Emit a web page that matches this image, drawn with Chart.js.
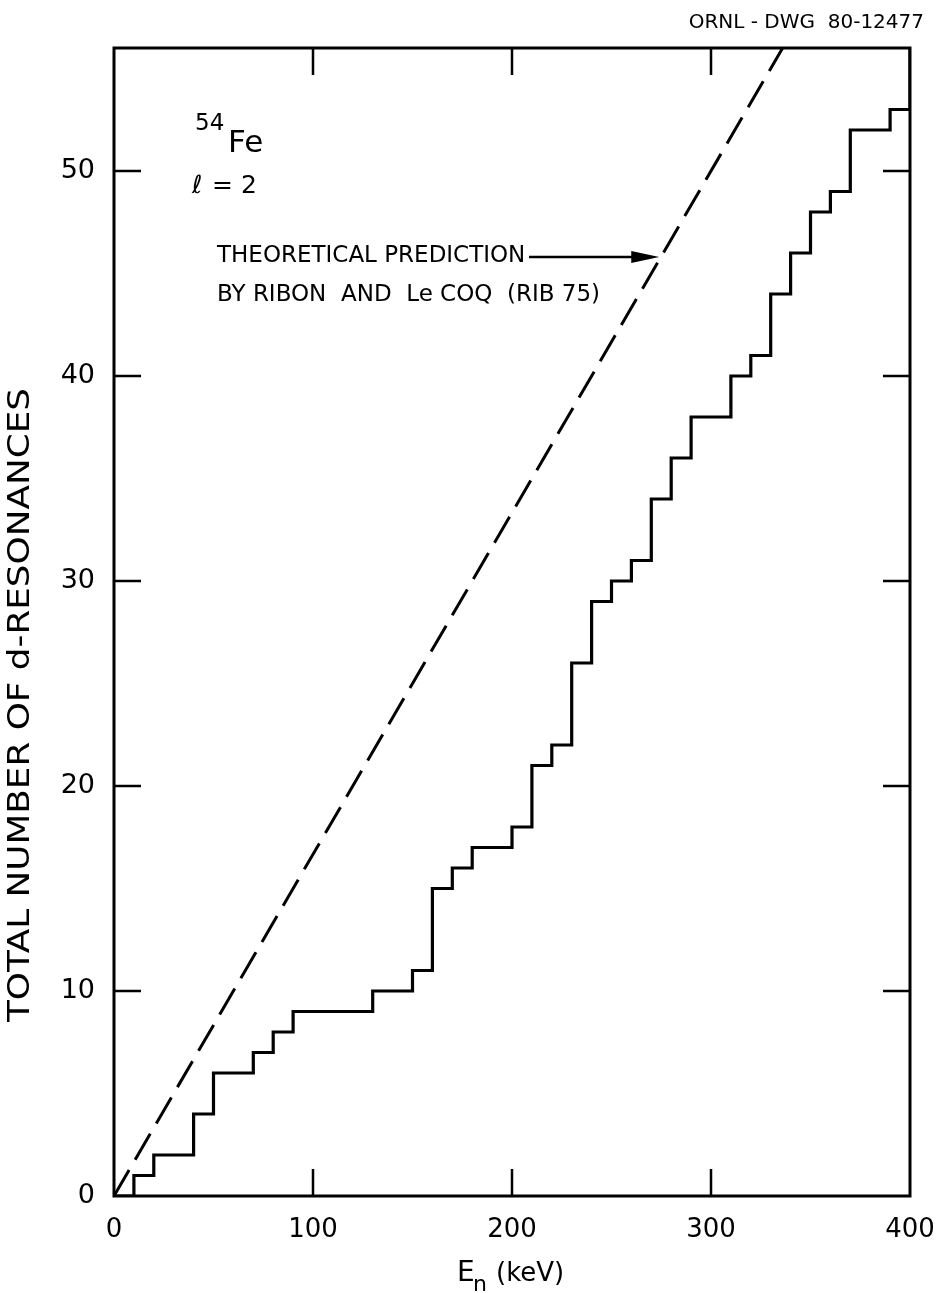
<!DOCTYPE html>
<html>
<head>
<meta charset="utf-8">
<script src="https://cdn.jsdelivr.net/npm/chart.js@4.4.1/dist/chart.umd.min.js"></script>
<style>
  body { margin: 0; background: #fff; }
  canvas { display: block; }
</style>
</head>
<body>
<canvas id="resChart" width="943" height="1293"></canvas>
<script>
'use strict';

// Global variables :
// cumulative number of d-resonances, steps
var stepEnergy = [0, 10, 20, 40, 50, 70, 80, 90, 130, 150, 160, 170, 180, 200, 210, 220, 230, 240, 250, 260, 270, 280, 290, 310, 320, 330, 340, 350, 360, 370, 390, 400];
var stepCount = [0, 1, 2, 4, 6, 7, 8, 9, 10, 11, 15, 16, 17, 18, 21, 22, 26, 29, 30, 31, 34, 36, 38, 40, 41, 44, 46, 48, 49, 52, 53, 56];
// theoretical prediction (dashed straight line)
var theoryEnergy = [0, 336];
var theoryCount = [0, 56];
// axis ticks
var xTickValues = [0, 100, 200, 300, 400];
var yTickValues = [0, 10, 20, 30, 40, 50];

var fontName = '"DejaVu Sans", "Liberation Sans", sans-serif';
var yTitle = 'TOTAL NUMBER OF d-RESONANCES';

function toPoints(xs, ys) {
  var pts = [];
  for (var i = 0; i < xs.length; i++) {
    pts.push({x: xs[i], y: ys[i]});
  }
  return pts;
}

function setTicks(values) {
  return function(scale) {
    scale.ticks = values.map(function(v) { return {value: v}; });
  };
}

// frame, inward ticks and the lettering on the drawing
var notesPlugin = {
  id: 'notes',
  afterDraw: function(chart) {
    var ctx = chart.ctx;
    var area = chart.chartArea;
    var xs = chart.scales.x;
    var ys = chart.scales.y;
    var tickLen = 27;
    var i, p;

    ctx.save();
    ctx.strokeStyle = '#000';
    ctx.lineWidth = 3;
    ctx.strokeRect(area.left, area.top, area.right - area.left, area.bottom - area.top);

    ctx.lineWidth = 2.5;
    ctx.beginPath();
    for (i = 1; i < xTickValues.length - 1; i++) {
      p = xs.getPixelForValue(xTickValues[i]);
      ctx.moveTo(p, area.bottom); ctx.lineTo(p, area.bottom - tickLen);
      ctx.moveTo(p, area.top); ctx.lineTo(p, area.top + tickLen);
    }
    for (i = 1; i < yTickValues.length; i++) {
      p = ys.getPixelForValue(yTickValues[i]);
      ctx.moveTo(area.left, p); ctx.lineTo(area.left + tickLen, p);
      ctx.moveTo(area.right, p); ctx.lineTo(area.right - tickLen, p);
    }
    ctx.stroke();

    ctx.fillStyle = '#000';
    ctx.textBaseline = 'alphabetic';
    ctx.textAlign = 'left';

    // header
    ctx.font = '20px ' + fontName;
    ctx.textAlign = 'right';
    ctx.fillText('ORNL - DWG  80-12477', 924, 28);
    ctx.textAlign = 'left';

    // 54Fe, l = 2
    ctx.font = '23px ' + fontName;
    ctx.fillText('54', 195, 130);
    ctx.font = '31px ' + fontName;
    ctx.fillText('Fe', 228, 152);
    ctx.font = 'italic 25px ' + fontName;
    ctx.fillText('\u2113', 192, 193);
    ctx.font = '25px ' + fontName;
    ctx.fillText('= 2', 212, 193);

    // theoretical prediction label and arrow
    ctx.font = '23px ' + fontName;
    ctx.fillText('THEORETICAL PREDICTION', 217, 262);
    ctx.fillText('BY RIBON  AND  Le COQ  (RIB 75)', 217, 301);
    var tipX = xs.getPixelForValue(274);
    var tipY = ys.getPixelForValue(45.8);
    ctx.lineWidth = 2.5;
    ctx.beginPath();
    ctx.moveTo(529, tipY);
    ctx.lineTo(tipX - 20, tipY);
    ctx.stroke();
    ctx.beginPath();
    ctx.moveTo(tipX, tipY);
    ctx.lineTo(tipX - 28, tipY - 6);
    ctx.lineTo(tipX - 28, tipY + 6);
    ctx.closePath();
    ctx.fill();

    // x axis title with subscript
    var cx = xs.getPixelForValue(195);
    ctx.font = '28px ' + fontName;
    ctx.fillText('E', cx - 45, 1281);
    ctx.font = '22px ' + fontName;
    ctx.fillText('n', cx - 29, 1291);
    ctx.font = '26px ' + fontName;
    ctx.fillText('(keV)', cx - 6, 1281);

    // y axis title, tall narrow lettering
    ctx.font = '30px "DejaVu Sans Condensed", "Liberation Sans Narrow", sans-serif';
    var w = ctx.measureText(yTitle).width;
    ctx.translate(29, 705);
    ctx.rotate(-Math.PI / 2);
    ctx.scale(634 / w, 1);
    ctx.textAlign = 'center';
    ctx.fillText(yTitle, 0, 0);
    ctx.restore();
  }
};

function drawResonanceChart() {
  var ctx = document.getElementById('resChart').getContext('2d');
  var resChart = new Chart(ctx, { //eslint-disable-line
    type: 'line',
    data: {
      datasets: [
        {
          label: 'measured',
          data: toPoints(stepEnergy, stepCount),
          stepped: true,
          borderColor: '#000',
          borderWidth: 3.2,
          pointRadius: 0,
          fill: false
        },
        {
          label: 'theory',
          data: toPoints(theoryEnergy, theoryCount),
          borderColor: '#000',
          borderWidth: 3,
          borderDash: [30, 12],
          pointRadius: 0,
          fill: false
        }
      ]
    },
    options: {
      responsive: false,
      animation: false,
      layout: {padding: {left: 0, right: 33, top: 48, bottom: 0}},
      plugins: {
        legend: {display: false},
        tooltip: {enabled: false}
      },
      scales: {
        x: {
          type: 'linear',
          min: 0,
          max: 400,
          afterBuildTicks: setTicks(xTickValues),
          afterFit: function(scale) {
            scale.height = 97;
            scale.paddingLeft = 0;
            scale.paddingRight = 0;
          },
          grid: {display: false, drawTicks: false},
          border: {display: false},
          ticks: {color: '#000', padding: 19, maxRotation: 0, font: {family: fontName, size: 26}}
        },
        y: {
          type: 'linear',
          min: 0,
          max: 56,
          afterBuildTicks: setTicks(yTickValues),
          afterFit: function(scale) {
            scale.width = 114;
            scale.paddingTop = 0;
            scale.paddingBottom = 0;
          },
          grid: {display: false, drawTicks: false},
          border: {display: false},
          ticks: {color: '#000', padding: 19, font: {family: fontName, size: 27}}
        }
      }
    },
    plugins: [notesPlugin]
  });
}

drawResonanceChart();
</script>
</body>
</html>
